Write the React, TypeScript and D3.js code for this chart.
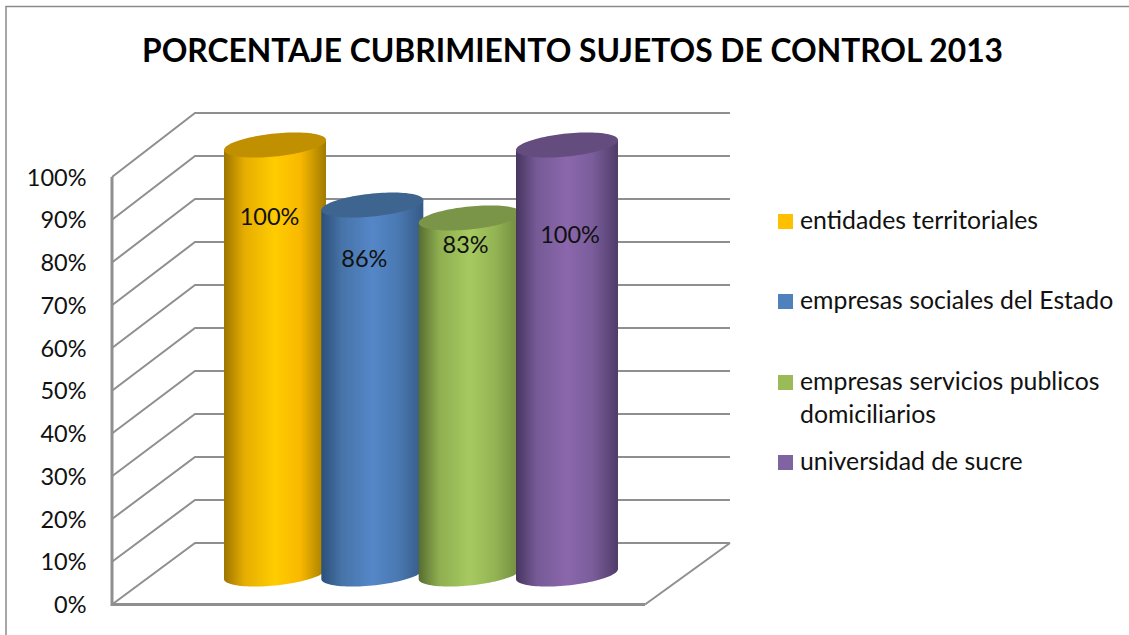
import { useEffect, useRef } from "react";
import * as d3 from "d3";

const title = "PORCENTAJE CUBRIMIENTO SUJETOS DE CONTROL 2013";
const categories = ["entidades territoriales", "empresas sociales del Estado", "empresas servicios publicos domiciliarios", "universidad de sucre"];
const values = [100, 86, 83, 100];
const valueLabels = ["100%", "86%", "83%", "100%"];
const ticks = [0, 10, 20, 30, 40, 50, 60, 70, 80, 90, 100];
const legendLines = [["entidades territoriales"], ["empresas sociales del Estado"], ["empresas servicios publicos", "domiciliarios"], ["universidad de sucre"]];
const legendTops = [214, 294, 375, 455];

// data labels sit at odd spots on the cylinders in the original
const labelDx = [-5.5, -8, -4, 3];
const labelDy = [80, 62, 35, 98];

// edge, mid, centre, mid, edge of each cylinder, then the darker lid
const bodyStops = [
  ["#9c7500", "#e6ad00", "#ffcc00", "#f9b800", "#a07b00"],
  ["#2c5079", "#4673a8", "#5587c8", "#4a79b2", "#365a86"],
  ["#566d30", "#8fae50", "#a6ca60", "#94b354", "#6f8a3e"],
  ["#47355f", "#755a96", "#8b67ab", "#7a5d9b", "#4f3c69"],
];
const lidColors = ["#c09000", "#3e658f", "#7a9448", "#654c7f"];
const swatchColors = ["#ffc000", "#4f81bd", "#9bbb59", "#8064a2"];
const font = "Lato, 'Open Sans', sans-serif";

export default function App() {
  const svgRef = useRef<SVGSVGElement>(null);

  useEffect(() => {
    const svg = d3.select(svgRef.current);
    svg.selectAll("*").remove();

    svg.append("rect").attr("width", 1129).attr("height", 635).attr("fill", "white");
    svg.append("path")
      .attr("d", "M6,635V6.5H1129")
      .attr("fill", "none")
      .attr("stroke", "#8a8a8a")
      .attr("stroke-width", 1.5);

    svg.append("text")
      .attr("x", 572.5).attr("y", 62)
      .attr("text-anchor", "middle")
      .attr("font-family", font).attr("font-weight", 700).attr("font-size", 32)
      .attr("textLength", 861).attr("lengthAdjust", "spacingAndGlyphs")
      .text(title);

    const yFront = d3.scaleLinear().domain([0, 100]).range([604.5, 177]);
    const yBack = d3.scaleLinear().domain([0, 100]).range([543, 113]);
    const yBar = d3.scaleLinear().domain([0, 100]).range([574, 145]);
    const xFront = 112, xBack = 195, xRight = 730, xFloor = 645;

    const grid = svg.append("g").attr("fill", "none").attr("stroke", "#8f8f8f").attr("stroke-width", 2);
    grid.selectAll("path.tick").data(ticks).join("path")
      .attr("class", "tick")
      .attr("d", d => d3.line()([[xFront, yFront(d)], [xBack, yBack(d)], [xRight, yBack(d)]]));
    // wall edge and floor
    grid.append("path").attr("stroke-width", 3)
      .attr("d", d3.line()([[xFront, yFront(100)], [xFront, yFront(0)], [xFloor, yFront(0)]]));
    grid.append("path")
      .attr("d", d3.line()([[xFloor, yFront(0)], [xRight, yBack(0)]]));

    svg.append("g")
      .selectAll("text").data(ticks).join("text")
      .attr("x", 86.5).attr("y", d => yFront(d) + 8.5)
      .attr("text-anchor", "end")
      .attr("font-family", font).attr("font-size", 23.5)
      .attr("fill", "#111")
      .text(d => d + "%");

    const x = d3.scalePoint<string>().domain(categories).range([275, 567]);
    const rx = 51, ry = 11.5, tilt = 5;
    const t = d3.range(0, 49).map(i => (i / 48) * Math.PI); // 0 = right edge, PI = left edge

    const defs = svg.append("defs");
    bodyStops.forEach((stops, i) => {
      const g = defs.append("linearGradient").attr("id", `body${i}`);
      [0, 0.2, 0.5, 0.75, 1].forEach((o, j) => {
        g.append("stop").attr("offset", o).attr("stop-color", stops[j]);
      });
    });

    const line = d3.line();
    categories.forEach((c, i) => {
      const cx = x(c) as number;
      const top = yBar(values[i]);
      const base = yBar(0);
      const under = t.map(a => [cx + rx * Math.cos(a), base - tilt * Math.cos(a) + ry * Math.sin(a)] as [number, number]);
      const lidFront = t.map(a => [cx - rx * Math.cos(a), top + tilt * Math.cos(a) + ry * Math.sin(a)] as [number, number]);
      const lidBack = t.map(a => [cx + rx * Math.cos(a), top - tilt * Math.cos(a) - ry * Math.sin(a)] as [number, number]);
      svg.append("path")
        .attr("d", line([[cx + rx, top - tilt], ...under, [cx - rx, top + tilt]]) + "Z")
        .attr("fill", `url(#body${i})`);
      svg.append("path")
        .attr("d", line([...lidBack, ...lidFront]) + "Z")
        .attr("fill", lidColors[i]);
    });

    svg.append("g")
      .selectAll("text").data(values).join("text")
      .attr("x", (d, i) => (x(categories[i]) as number) + labelDx[i])
      .attr("y", (d, i) => yBar(d) + labelDy[i])
      .attr("text-anchor", "middle")
      .attr("font-family", font).attr("font-size", 23.5)
      .attr("fill", "#111")
      .text((d, i) => valueLabels[i]);

    const legend = svg.append("g").attr("font-family", font).attr("font-size", 24.8).attr("fill", "#111");
    legendLines.forEach((lines, i) => {
      legend.append("rect")
        .attr("x", 778).attr("y", legendTops[i]).attr("width", 15).attr("height", 15)
        .attr("fill", swatchColors[i]);
      lines.forEach((s, j) => {
        legend.append("text")
          .attr("x", 800).attr("y", legendTops[i] + 15 + j * 33)
          .text(s);
      });
    });
  }, []);

  return <svg ref={svgRef} width={1129} height={635} style={{ position: "absolute", left: 0, top: 0 }} />;
}
